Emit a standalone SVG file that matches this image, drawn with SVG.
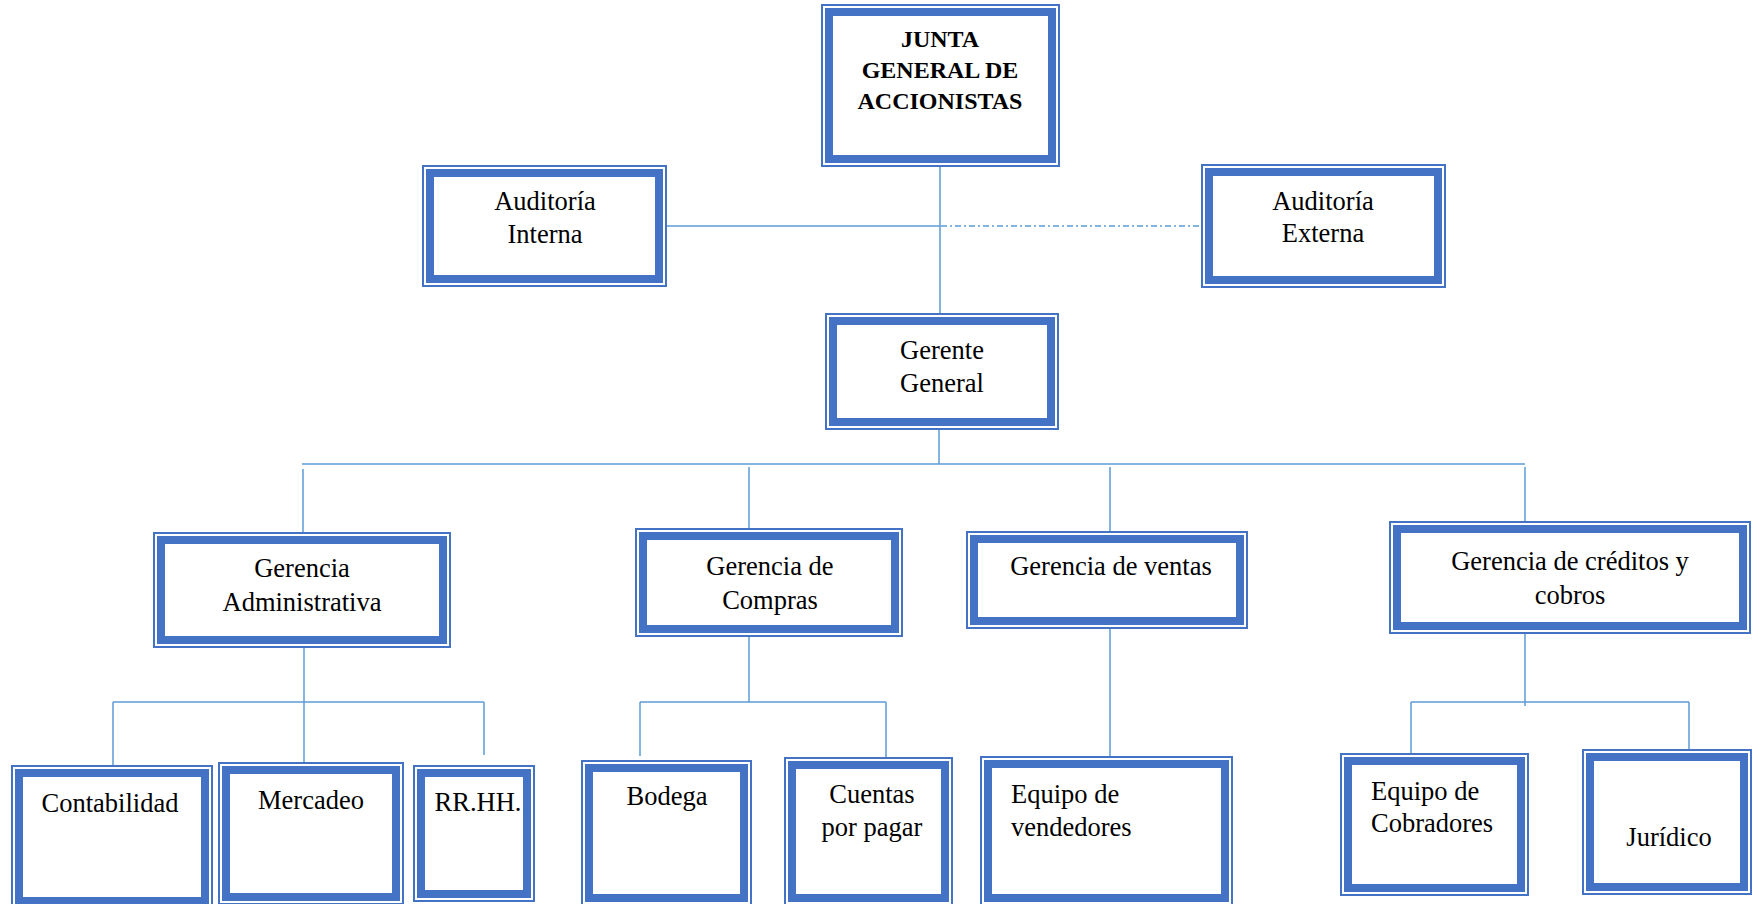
<svg xmlns="http://www.w3.org/2000/svg" width="1752" height="904" viewBox="0 0 1752 904">
<style>
.o{fill:none;stroke:#4472C4;stroke-width:2}
.t{fill:#fff;stroke:#4472C4;stroke-width:8}
.c{fill:none;stroke:#5B9BD5;stroke-width:1.5}
.d{fill:none;stroke:#5B9BD5;stroke-width:1.5;stroke-dasharray:6 3 2 3}
text{font-family:"Liberation Serif","Times New Roman",serif;font-size:26.5px;fill:#000;text-anchor:middle}
.b{font-weight:bold;font-size:24px}
.s{text-anchor:start}
</style>
<rect width="1752" height="904" fill="#fff"/>
<g id="connectors">
<line class="c" x1="940" y1="167" x2="940" y2="313"/>
<line class="c" x1="667" y1="226" x2="940" y2="226"/>
<line class="d" x1="941" y1="226" x2="1201" y2="226"/>
<line class="c" x1="939" y1="430" x2="939" y2="464"/>
<line class="c" x1="302" y1="464" x2="1525" y2="464"/>
<line class="c" x1="303" y1="469" x2="303" y2="532"/>
<line class="c" x1="749" y1="467" x2="749" y2="528"/>
<line class="c" x1="1110" y1="467" x2="1110" y2="531"/>
<line class="c" x1="1525" y1="467" x2="1525" y2="521"/>
<line class="c" x1="304" y1="648" x2="304" y2="762"/>
<line class="c" x1="113" y1="702" x2="484" y2="702"/>
<line class="c" x1="113" y1="702" x2="113" y2="765"/>
<line class="c" x1="484" y1="702" x2="484" y2="755"/>
<line class="c" x1="749" y1="637" x2="749" y2="702"/>
<line class="c" x1="640" y1="702" x2="886" y2="702"/>
<line class="c" x1="640" y1="702" x2="640" y2="756"/>
<line class="c" x1="886" y1="702" x2="886" y2="757"/>
<line class="c" x1="1110" y1="629" x2="1110" y2="756"/>
<line class="c" x1="1525" y1="634" x2="1525" y2="706"/>
<line class="c" x1="1411" y1="702" x2="1689" y2="702"/>
<line class="c" x1="1411" y1="702" x2="1411" y2="753"/>
<line class="c" x1="1689" y1="702" x2="1689" y2="749"/>
</g>
<g id="junta">
<rect class="o" x="822" y="5" width="237" height="161"/>
<rect class="t" x="829" y="12" width="223" height="147"/>
<text class="b" x="940" y="47">JUNTA</text>
<text class="b" x="940" y="78">GENERAL DE</text>
<text class="b" x="940" y="109">ACCIONISTAS</text>
</g>
<g id="auditoria-interna">
<rect class="o" x="423" y="166" width="243" height="120"/>
<rect class="t" x="430" y="173" width="229" height="106"/>
<text x="545" y="210">Auditoría</text>
<text x="545" y="243">Interna</text>
</g>
<g id="auditoria-externa">
<rect class="o" x="1202" y="165" width="243" height="122"/>
<rect class="t" x="1209" y="172" width="229" height="108"/>
<text x="1323" y="210">Auditoría</text>
<text x="1323" y="242">Externa</text>
</g>
<g id="gerente-general">
<rect class="o" x="826" y="314" width="232" height="115"/>
<rect class="t" x="833" y="321" width="218" height="101"/>
<text x="942" y="359">Gerente</text>
<text x="942" y="392">General</text>
</g>
<g id="gerencia-administrativa">
<rect class="o" x="154" y="533" width="296" height="114"/>
<rect class="t" x="161" y="540" width="282" height="100"/>
<text x="302" y="577">Gerencia</text>
<text x="302" y="611">Administrativa</text>
</g>
<g id="gerencia-compras">
<rect class="o" x="636" y="529" width="266" height="107"/>
<rect class="t" x="643" y="536" width="252" height="93"/>
<text x="770" y="575">Gerencia de</text>
<text x="770" y="609">Compras</text>
</g>
<g id="gerencia-ventas">
<rect class="o" x="967" y="532" width="280" height="96"/>
<rect class="t" x="974" y="539" width="266" height="82"/>
<text x="1111" y="575">Gerencia de ventas</text>
</g>
<g id="gerencia-creditos">
<rect class="o" x="1390" y="522" width="360" height="111"/>
<rect class="t" x="1397" y="529" width="346" height="97"/>
<text x="1570" y="570">Gerencia de créditos y</text>
<text x="1570" y="604">cobros</text>
</g>
<g id="contabilidad">
<rect class="o" x="12" y="766" width="200" height="141"/>
<rect class="t" x="19" y="773" width="186" height="128"/>
<text x="110" y="812">Contabilidad</text>
</g>
<g id="mercadeo">
<rect class="o" x="219" y="763" width="184" height="141"/>
<rect class="t" x="226" y="770" width="170" height="127"/>
<text x="311" y="809">Mercadeo</text>
</g>
<g id="rrhh">
<rect class="o" x="414" y="766" width="120" height="135"/>
<rect class="t" x="421" y="773" width="106" height="121"/>
<text x="478" y="811">RR.HH.</text>
</g>
<g id="bodega">
<rect class="o" x="582" y="761" width="169" height="144"/>
<rect class="t" x="589" y="768" width="155" height="130"/>
<text x="667" y="805">Bodega</text>
</g>
<g id="cuentas-por-pagar">
<rect class="o" x="785" y="758" width="167" height="147"/>
<rect class="t" x="792" y="765" width="153" height="133"/>
<text x="872" y="803">Cuentas</text>
<text x="872" y="836">por pagar</text>
</g>
<g id="equipo-vendedores">
<rect class="o" x="981" y="757" width="251" height="148"/>
<rect class="t" x="988" y="764" width="237" height="134"/>
<text class="s" x="1011" y="803">Equipo de</text>
<text class="s" x="1011" y="836">vendedores</text>
</g>
<g id="equipo-cobradores">
<rect class="o" x="1341" y="754" width="187" height="141"/>
<rect class="t" x="1348" y="761" width="173" height="127"/>
<text class="s" x="1371" y="800">Equipo de</text>
<text class="s" x="1371" y="832">Cobradores</text>
</g>
<g id="juridico">
<rect class="o" x="1583" y="750" width="168" height="144"/>
<rect class="t" x="1590" y="757" width="154" height="130"/>
<text x="1669" y="846">Jurídico</text>
</g>
</svg>
